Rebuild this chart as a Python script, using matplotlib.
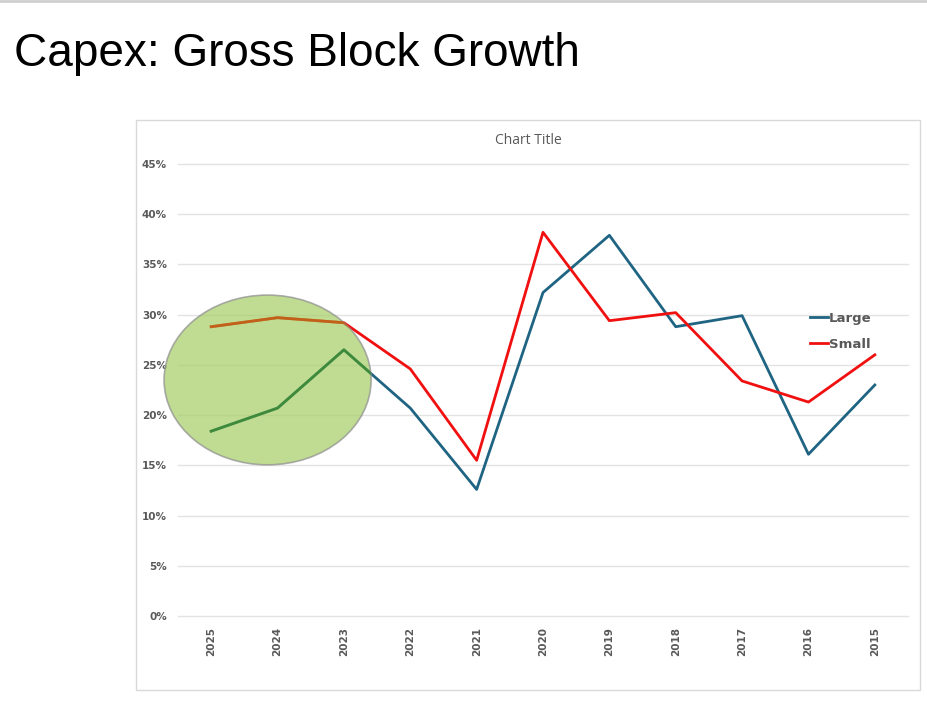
import matplotlib
matplotlib.use("Agg")
import matplotlib.pyplot as plt
from matplotlib.patches import Ellipse, Rectangle
from matplotlib.ticker import PercentFormatter

years = ["2025", "2024", "2023", "2022", "2021", "2020", "2019", "2018", "2017", "2016", "2015"]
large = [18.4, 20.7, 26.5, 20.7, 12.6, 32.2, 37.9, 28.8, 29.9, 16.1, 23.0]
small = [28.8, 29.7, 29.2, 24.6, 15.5, 38.2, 29.4, 30.2, 23.4, 21.3, 26.0]
yticks = [0, 5, 10, 15, 20, 25, 30, 35, 40, 45]

fig = plt.figure(figsize=(9.28, 7.25), dpi=100)
fig.patch.set_facecolor("white")

# top separator line
fig.add_artist(plt.Line2D([0, 1], [0.998, 0.998], color="#cfcfcf", lw=2, transform=fig.transFigure))

fig.text(14/928, 1 - 54/725, "Capex: Gross Block Growth", fontsize=33, family="Liberation Sans",
         color="black", va="center", ha="left")

# chart border
fig.add_artist(Rectangle((136/928, 1 - 690/725), (920-136)/928, (690-120)/725,
                         transform=fig.transFigure, fill=False, edgecolor="#d9d9d9", lw=1))
fig.text(528/928, 1 - 140/725, "Chart Title", fontsize=10, color="#595959", ha="center", va="center",
         family="Open Sans")

ax = fig.add_axes([178/928, 1 - 616/725, (908-178)/928, (616-164)/725])
x = list(range(len(years)))
ax.plot(x, large, color="#1F6482", lw=2, label="Large", zorder=3)
ax.plot(x, small, color="#F01010", lw=2, label="Small", zorder=3)

ax.set_xlim(-0.5, len(years) - 0.5)
ax.set_ylim(0, 45)
ax.set_yticks(yticks)
ax.yaxis.set_major_formatter(PercentFormatter(decimals=0))
ax.set_xticks(x)
ax.set_xticklabels(years, rotation=90)
for lab in ax.get_xticklabels() + ax.get_yticklabels():
    lab.set_fontweight("bold")
    lab.set_color("#595959")
    lab.set_fontsize(7.5)
ax.tick_params(length=0, pad=8)
ax.grid(axis="y", color="#e3e3e3", lw=1)
for gl in ax.get_ygridlines():
    gl.set_clip_on(False)
ax.set_axisbelow(True)
for s in ax.spines.values():
    s.set_visible(False)

# highlighted region
ell = Ellipse((0.85, 23.5), 3.12, 16.9, facecolor="#A7CF68", alpha=0.72, edgecolor="#8f8f8f",
              lw=1.2, zorder=5, clip_on=False)
ax.add_patch(ell)
l1, = ax.plot(x, large, color="#3E8A3C", lw=2, zorder=6)
l1.set_clip_path(ell)
l2, = ax.plot(x, small, color="#C2601A", lw=2, zorder=6)
l2.set_clip_path(ell)

leg = ax.legend(handles=ax.lines[:2], loc="center left", bbox_to_anchor=(0.85, 0.630), frameon=False,
                handlelength=1.3, handletextpad=0.1, labelspacing=0.95,
                prop={"weight": "bold", "size": 9.5})
for t in leg.get_texts():
    t.set_color("#595959")

fig.savefig("out.png", dpi=100, facecolor="white")
